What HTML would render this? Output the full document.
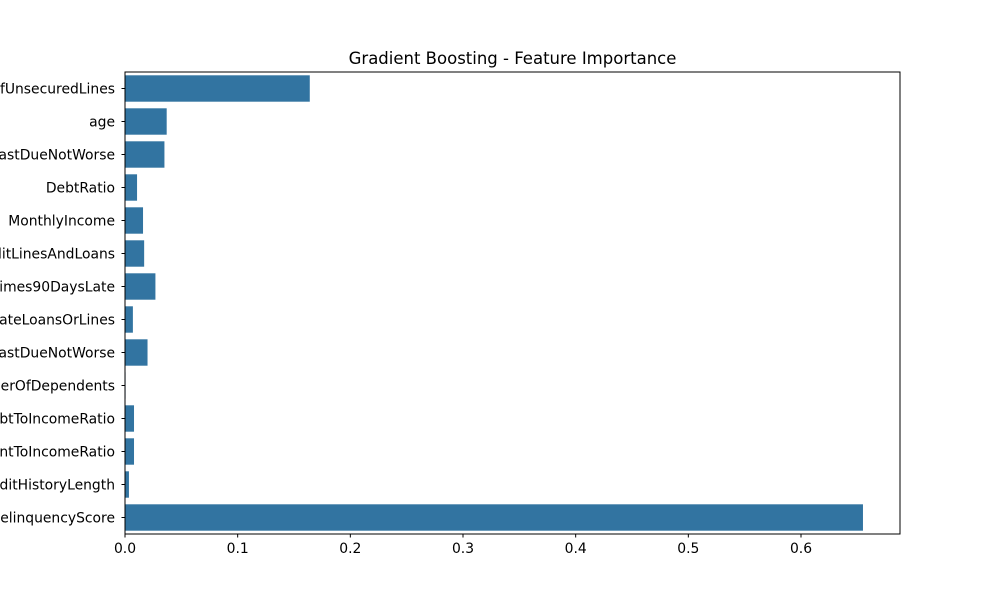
<!DOCTYPE html>
<html><head><meta charset="utf-8"><style>body{margin:0;background:#fff}svg{display:block;font-family:"DejaVu Sans","Liberation Sans",sans-serif}</style></head>
<body>
<svg id="chart" width="1000" height="600" viewBox="0 0 1000 600">
<text x="512.5" y="64" font-size="16.5" text-anchor="middle">Gradient Boosting - Feature Importance</text>
<g id="bars"></g><g id="yticks"></g><g id="xticks"></g>
<rect x="125" y="72" width="775" height="462" fill="none" stroke="#000" stroke-width="1"/>
</svg>
<script>
const features = ["RevolvingUtilizationOfUnsecuredLines","age","NumberOfTime30-59DaysPastDueNotWorse","DebtRatio","MonthlyIncome","NumberOfOpenCreditLinesAndLoans","NumberOfTimes90DaysLate","NumberRealEstateLoansOrLines","NumberOfTime60-89DaysPastDueNotWorse","NumberOfDependents","MonthlyDebtToIncomeRatio","MonthlyPaymentToIncomeRatio","CreditHistoryLength","DelinquencyScore"];
const importances = [0.164,0.037,0.035,0.0107,0.016,0.017,0.027,0.007,0.020,0.0005,0.008,0.008,0.0035,0.655];
const xTickValues = [0,0.1,0.2,0.3,0.4,0.5,0.6];
const xTickLabels = ["0.0","0.1","0.2","0.3","0.4","0.5","0.6"];
const NS="http://www.w3.org/2000/svg";
const L=125,R=900,T=72,B=534,XMAX=(R-L)/1126.67;
const x=v=>L+v/XMAX*(R-L);
const step=(B-T)/features.length;
const y=i=>T+step*(i+0.5);
const bars=document.getElementById('bars'),yt=document.getElementById('yticks'),xt=document.getElementById('xticks');
function mk(t,a){const e=document.createElementNS(NS,t);for(const k in a)e.setAttribute(k,a[k]);return e;}
features.forEach((f,i)=>{
  const r=mk('rect',{x:L,y:y(i)-step*0.4,width:x(importances[i])-L,height:step*0.8,fill:'#3274a1'});
  
  
  bars.appendChild(r);
  const tk=mk('line',{x1:L-3.5,x2:L,y1:y(i),y2:y(i),stroke:'#000'});
  
  
  yt.appendChild(tk);
  const tx=mk('text',{x:L-10,y:y(i)+4.8,'font-size':13.9,'text-anchor':'end'});
  tx.textContent=f;
  
  
  yt.appendChild(tx);
});
xTickValues.forEach((v,i)=>{
  const tk=mk('line',{x1:x(v),x2:x(v),y1:B,y2:B+3.5,stroke:'#000'});
  
  
  xt.appendChild(tk);
  const tx=mk('text',{x:x(v),y:B+19,'font-size':13.9,'text-anchor':'middle'});
  tx.textContent=xTickLabels[i];
  
  
  xt.appendChild(tx);
});
</script>
</body></html>
